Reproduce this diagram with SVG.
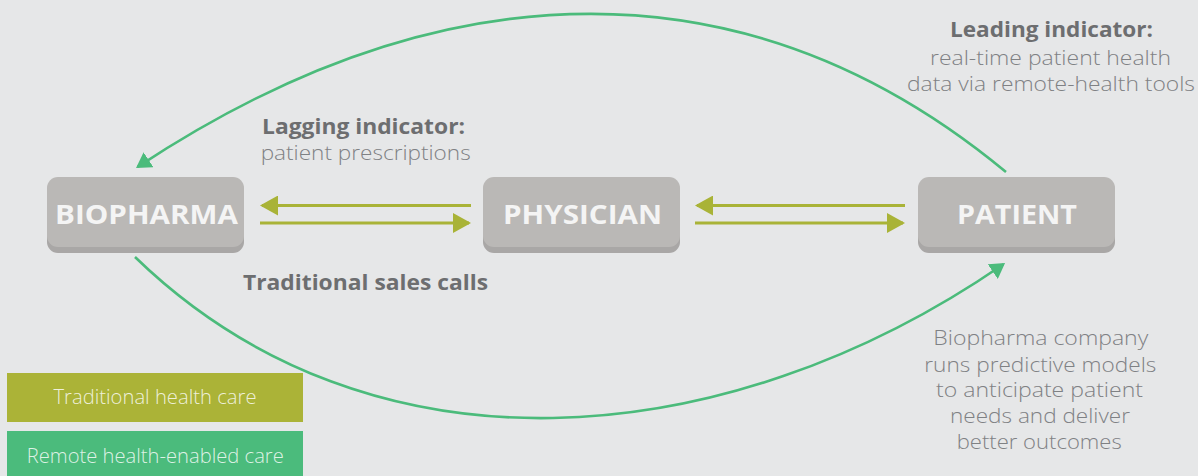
<svg xmlns="http://www.w3.org/2000/svg" width="1198" height="476" viewBox="0 0 1198 476">
  <style>
    .node-base { fill: #a9a7a6; }
    .node-face { fill: #bab8b6; }
    .node-label { font-family: "Open Sans", "Liberation Sans", sans-serif; font-weight: 700; font-size: 27px; fill: #f4f4f4; text-anchor: middle; }
    .olive { stroke: #a9b337; stroke-width: 3; fill: none; }
    .green { stroke: #4bbb7b; stroke-width: 2.6; fill: none; }
    .hd { font-family: "Open Sans", "Liberation Sans", sans-serif; font-weight: 700; font-size: 21px; fill: #6d6e70; text-anchor: middle; }
    .bd { font-family: "Open Sans", "Liberation Sans", sans-serif; font-weight: 300; font-size: 21px; fill: #7f8184; text-anchor: middle; }
    .key { font-family: "Open Sans", "Liberation Sans", sans-serif; font-weight: 300; font-size: 20px; fill: #ffffff; fill-opacity: 0.82; text-anchor: middle; }
  </style>
  <defs>
    <marker id="head-olive" viewBox="0 0 18 20" refX="16" refY="10" markerWidth="18" markerHeight="20" markerUnits="userSpaceOnUse" orient="auto">
      <path d="M0,0 L18,10 L0,20 Z" fill="#a9b337"/>
    </marker>
    <marker id="head-green" viewBox="0 0 15 18" refX="13" refY="9" markerWidth="15" markerHeight="18" markerUnits="userSpaceOnUse" orient="auto">
      <path d="M0,0 L15,9 L0,18 Z" fill="#4bbb7b"/>
    </marker>
  </defs>

  <rect width="1198" height="476" fill="#e6e7e8"/>

  <!-- connectors -->
  <g id="connectors">
    <path class="olive" d="M471,205.5 H262" marker-end="url(#head-olive)"/>
    <path class="olive" d="M260,223 H469" marker-end="url(#head-olive)"/>
    <path class="olive" d="M905,205.5 H697" marker-end="url(#head-olive)"/>
    <path class="olive" d="M695,223 H903" marker-end="url(#head-olive)"/>
    <path class="green" d="M1006,172 C750,-40 445,-36 137.7,166.9" marker-end="url(#head-green)"/>
    <path class="green" d="M135,257 C370,485 725,456 1003.4,264.2" marker-end="url(#head-green)"/>
  </g>

  <!-- nodes -->
  <g id="node-biopharma">
    <rect class="node-base" x="47" y="183" width="197" height="70" rx="11"/>
    <rect class="node-face" x="47" y="177" width="197" height="70" rx="11"/>
    <text class="node-label" x="146.5" y="223.5" textLength="183" lengthAdjust="spacingAndGlyphs">BIOPHARMA</text>
  </g>
  <g id="node-physician">
    <rect class="node-base" x="483" y="183" width="197" height="70" rx="11"/>
    <rect class="node-face" x="483" y="177" width="197" height="70" rx="11"/>
    <text class="node-label" x="582.5" y="224" textLength="159" lengthAdjust="spacingAndGlyphs">PHYSICIAN</text>
  </g>
  <g id="node-patient">
    <rect class="node-base" x="918" y="183" width="197" height="70" rx="11"/>
    <rect class="node-face" x="918" y="177" width="197" height="70" rx="11"/>
    <text class="node-label" x="1017" y="224" textLength="120" lengthAdjust="spacingAndGlyphs">PATIENT</text>
  </g>

  <!-- annotations -->
  <g id="label-leading">
    <text class="hd" x="1051.5" y="37" textLength="203" lengthAdjust="spacingAndGlyphs">Leading indicator:</text>
    <text class="bd" x="1050.5" y="65" textLength="241" lengthAdjust="spacingAndGlyphs">real-time patient health</text>
    <text class="bd" x="1051" y="91" textLength="288" lengthAdjust="spacingAndGlyphs">data via remote-health tools</text>
  </g>
  <g id="label-lagging">
    <text class="hd" x="363.5" y="133.5" textLength="203" lengthAdjust="spacingAndGlyphs">Lagging indicator:</text>
    <text class="bd" x="365.7" y="160" textLength="210" lengthAdjust="spacingAndGlyphs">patient prescriptions</text>
  </g>
  <g id="label-sales">
    <text class="hd" x="365.5" y="290" textLength="245" lengthAdjust="spacingAndGlyphs">Traditional sales calls</text>
  </g>
  <g id="label-predictive">
    <text class="bd" x="1040.8" y="345" textLength="215" lengthAdjust="spacingAndGlyphs">Biopharma company</text>
    <text class="bd" x="1040.3" y="371.5" textLength="232" lengthAdjust="spacingAndGlyphs">runs predictive models</text>
    <text class="bd" x="1039.5" y="397" textLength="207" lengthAdjust="spacingAndGlyphs">to anticipate patient</text>
    <text class="bd" x="1040" y="423" textLength="180" lengthAdjust="spacingAndGlyphs">needs and deliver</text>
    <text class="bd" x="1039.2" y="448.5" textLength="165" lengthAdjust="spacingAndGlyphs">better outcomes</text>
  </g>

  <!-- legend -->
  <g id="legend-traditional">
    <rect x="7" y="373" width="296" height="49" fill="#abb337"/>
    <text class="key" x="155" y="403.5" textLength="203" lengthAdjust="spacingAndGlyphs">Traditional health care</text>
  </g>
  <g id="legend-remote">
    <rect x="7" y="431" width="296" height="45" fill="#4bbb7c"/>
    <text class="key" x="155.3" y="462.5" textLength="257" lengthAdjust="spacingAndGlyphs">Remote health-enabled care</text>
  </g>
</svg>
